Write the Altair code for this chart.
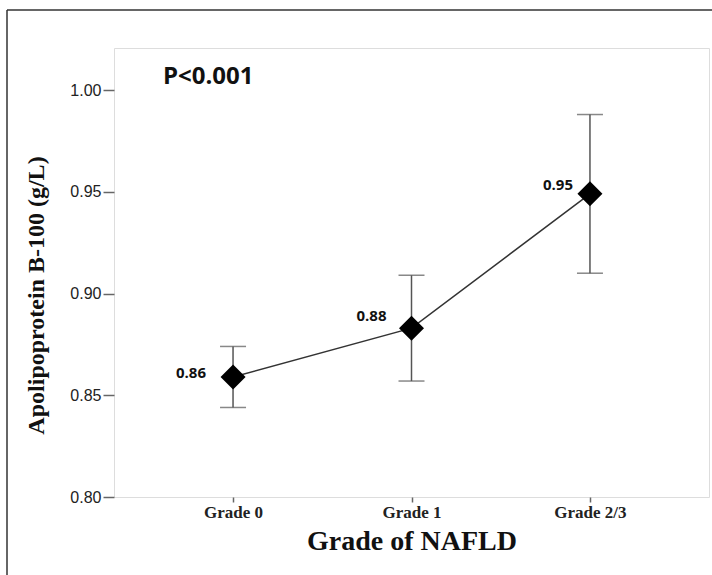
import altair as alt
import pandas as pd

grades = ["Grade 0", "Grade 1", "Grade 2/3"]
means = [0.859, 0.883, 0.949]
lower = [0.844, 0.857, 0.910]
upper = [0.874, 0.909, 0.988]
labels = ["0.86", "0.88", "0.95"]
y_ticks = [0.80, 0.85, 0.90, 0.95, 1.00]

df = pd.DataFrame({"grade": grades, "mean": means, "lo": lower, "hi": upper, "label": labels})

xs = alt.Scale(type="point", padding=0.667)
ys = alt.Scale(domain=[0.80, 1.0207], nice=False, zero=False)

x_enc = alt.X("grade:N", sort=grades, scale=xs, axis=alt.Axis(
    title="Grade of NAFLD", titleFont="Liberation Serif", titleFontSize=28, titleFontWeight="bold",
    titleColor="#111", titleY=44, titleBaseline="middle",
    labelFont="Liberation Serif", labelFontSize=17, labelFontWeight="bold", labelColor="#222",
    labelAngle=0, labelPadding=2, tickSize=5, tickColor="#666", tickWidth=1.5, domain=False))

y_axis = alt.Axis(
    title="Apolipoprotein B-100  (g/L)", titleFont="Liberation Serif", titleFontSize=24,
    titleFontWeight="bold", titleColor="#111", titleAngle=270, titleX=-78, titleY=247,
    titleAlign="center", titleBaseline="middle",
    values=y_ticks, format=".2f", labelFont="Liberation Sans", labelFontSize=16,
    labelColor="#222", labelPadding=2, tickSize=11, tickColor="#666", tickWidth=1.5,
    domain=False, grid=False)

base = alt.Chart(df)

err = base.mark_rule(color="#555", strokeWidth=1.5).encode(
    x=x_enc, y=alt.Y("lo:Q", scale=ys, axis=y_axis), y2="hi:Q")
cap_lo = base.mark_tick(color="#555", thickness=1.5, size=26).encode(
    x=alt.X("grade:N", sort=grades, scale=xs), y=alt.Y("lo:Q", scale=ys))
cap_hi = base.mark_tick(color="#555", thickness=1.5, size=26).encode(
    x=alt.X("grade:N", sort=grades, scale=xs), y=alt.Y("hi:Q", scale=ys))
line = base.mark_line(color="#333", strokeWidth=1.5).encode(
    x=alt.X("grade:N", sort=grades, scale=xs), y=alt.Y("mean:Q", scale=ys))
pts = base.mark_point(shape="diamond", filled=True, size=625, color="black", opacity=1).encode(
    x=alt.X("grade:N", sort=grades, scale=xs), y=alt.Y("mean:Q", scale=ys))

offsets = [(-27, -4), (-25, -12), (-17, -9)]
texts = []
for g, (dx, dy) in zip(grades, offsets):
    texts.append(base.transform_filter(alt.datum.grade == g).mark_text(
        align="right", baseline="middle", dx=dx, dy=dy, font="Open Sans",
        fontWeight="bold", fontSize=15, color="#111").encode(
        x=alt.X("grade:N", sort=grades, scale=xs), y=alt.Y("mean:Q", scale=ys), text="label:N"))

dummy = alt.Chart(pd.DataFrame({"a": [0]}))
frame_left = dummy.mark_rule(color="#333", strokeWidth=1.5).encode(
    x=alt.value(-107), y=alt.value(-38), y2=alt.value(620))
frame_top = dummy.mark_rule(color="#333", strokeWidth=1.5).encode(
    x=alt.value(-107), x2=alt.value(700), y=alt.value(-38))
ptext = dummy.mark_text(align="left", baseline="middle", font="Open Sans", fontWeight="bold",
                        fontSize=24, color="#111").encode(
    x=alt.value(49), y=alt.value(29), text=alt.value("P<0.001"))

chart = alt.layer(err, cap_lo, cap_hi, line, pts, *texts, frame_left, frame_top, ptext).properties(
    width=595, height=449,
    autosize=alt.AutoSizeParams(type="none"),
    padding={"left": 114, "top": 48, "right": 3, "bottom": 78},
).configure_view(stroke="#808080", strokeWidth=2).configure(background="white")

chart.save("out.html", embed_options={"renderer": "svg", "actions": False})
